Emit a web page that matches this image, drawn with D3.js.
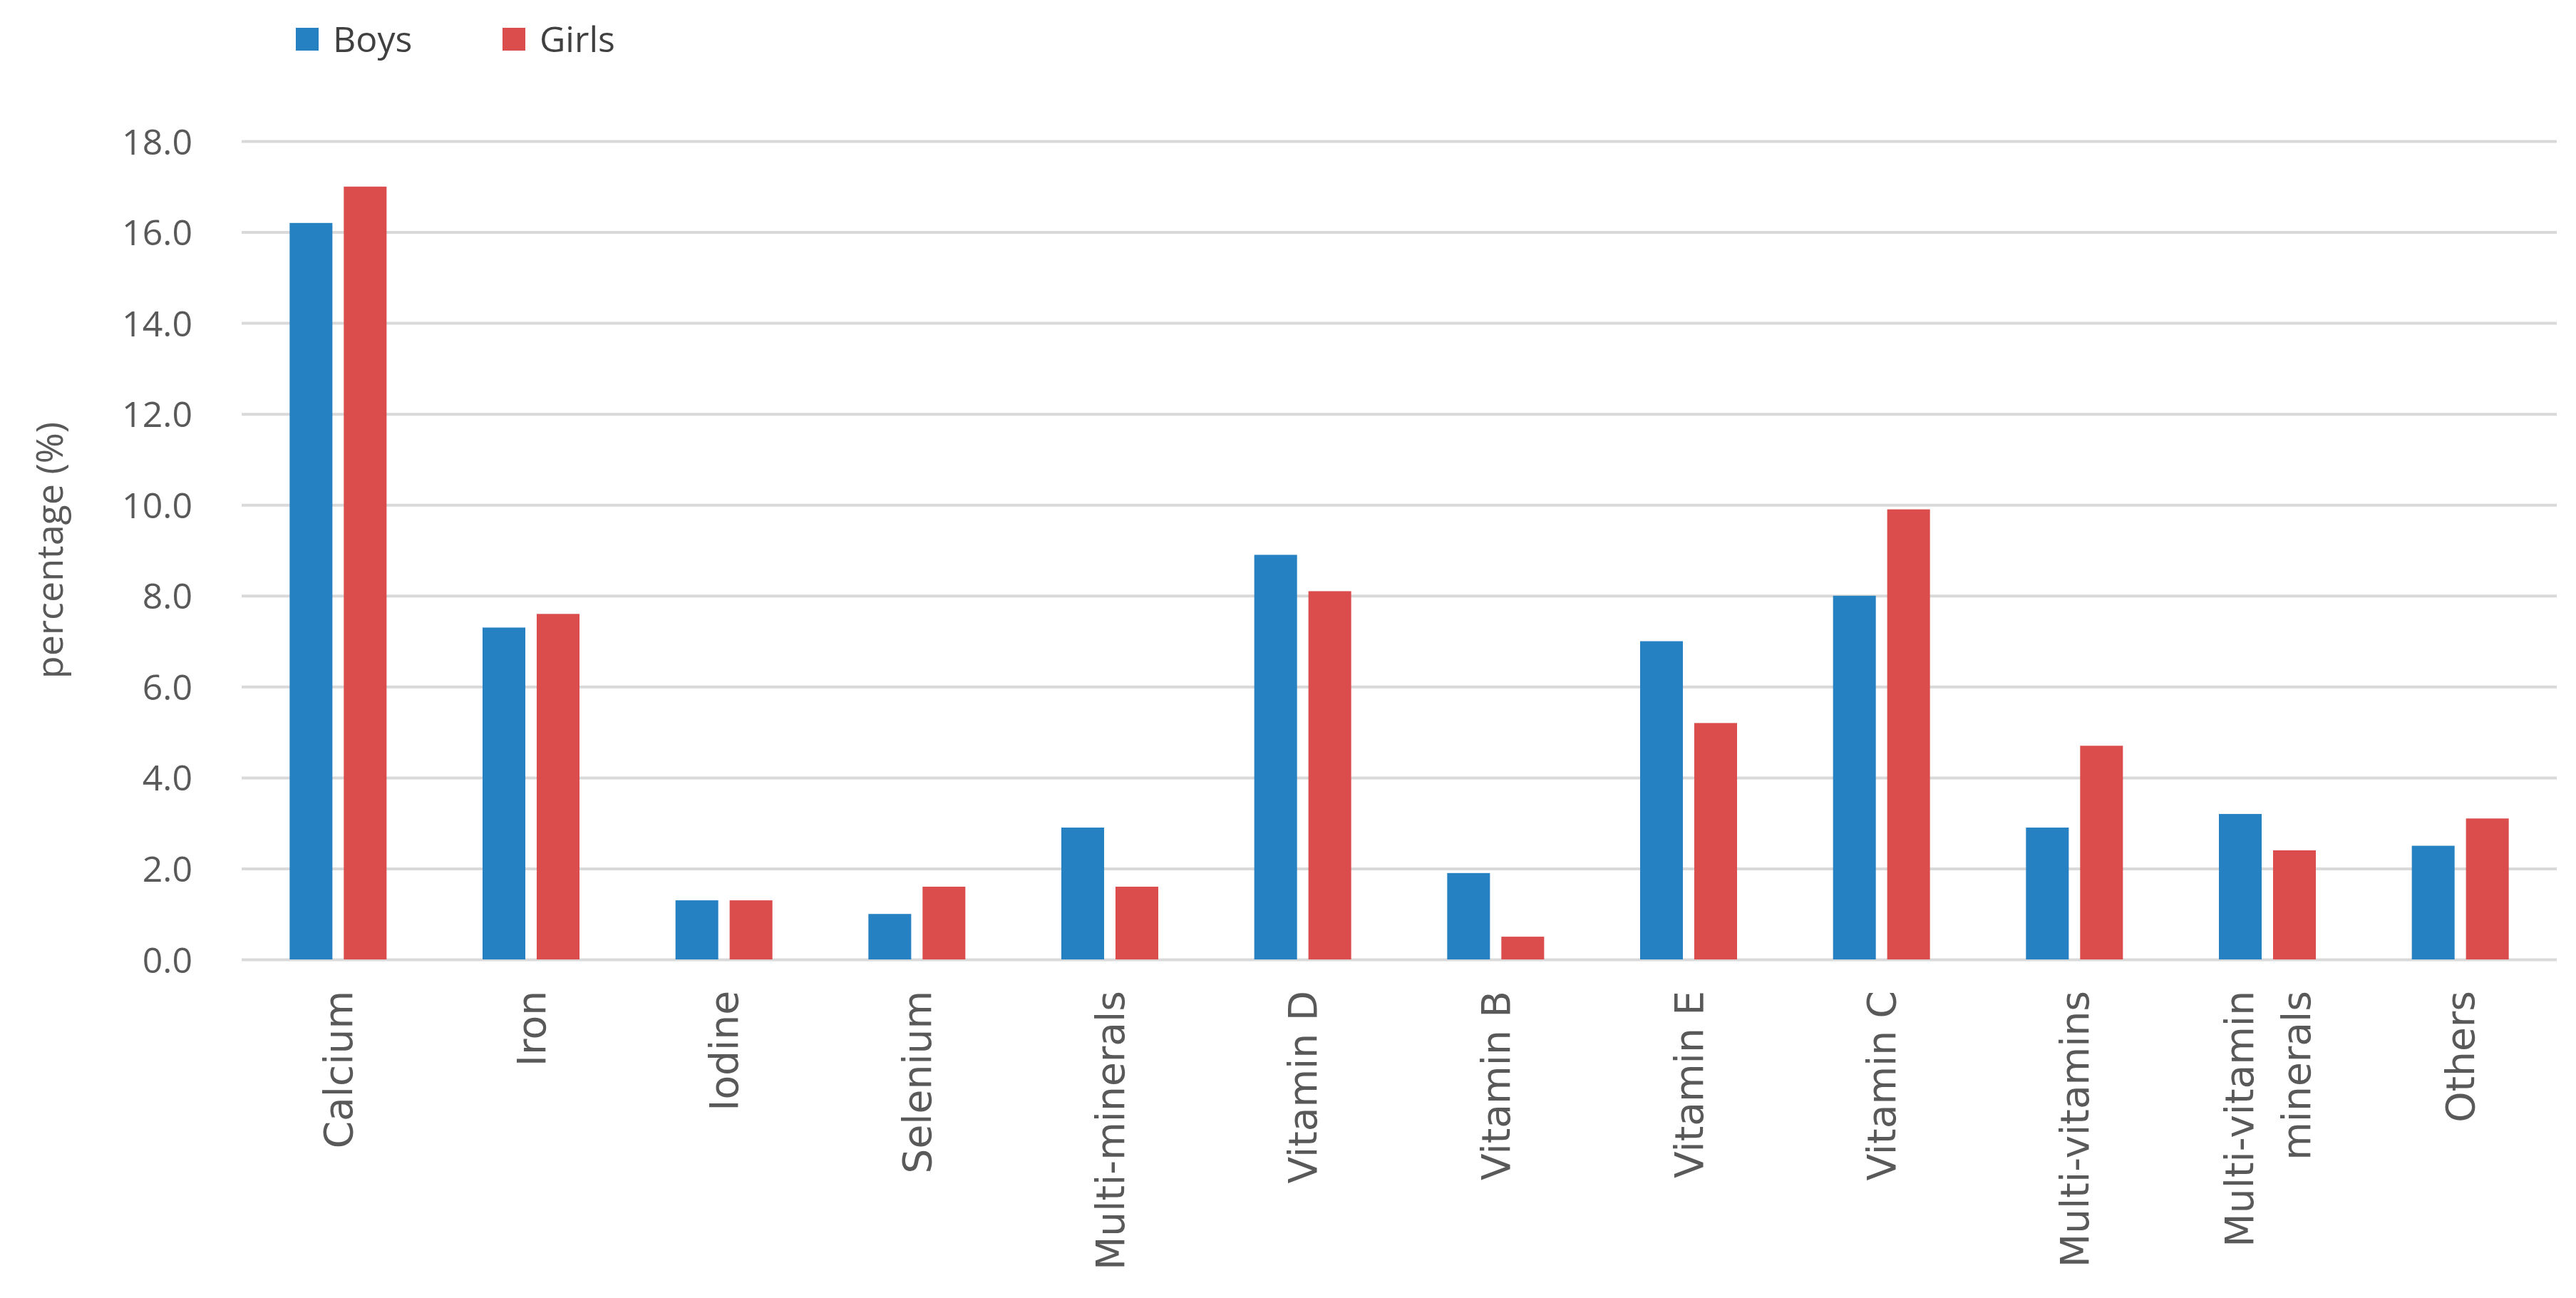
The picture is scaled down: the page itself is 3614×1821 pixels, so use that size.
<!DOCTYPE html>
<html>
<head>
<meta charset="utf-8">
<script src="https://cdn.jsdelivr.net/npm/d3@7"></script>
<style>
  html, body { margin: 0; padding: 0; background: #ffffff; }
  svg { display: block; }
</style>
</head>
<body>
<svg id="chart" width="3614" height="1821"></svg>
<script>
const categories = ["Calcium", "Iron", "Iodine", "Selenium", "Multi-minerals", "Vitamin D", "Vitamin B", "Vitamin E", "Vitamin C", "Multi-vitamins", "Multi-vitamin\nminerals", "Others"];
const seriesNames = ["Boys", "Girls"];
const boys  = [16.2, 7.3, 1.3, 1.0, 2.9, 8.9, 1.9, 7.0, 8.0, 2.9, 3.2, 2.5];
const girls = [17.0, 7.6, 1.3, 1.6, 1.6, 8.1, 0.5, 5.2, 9.9, 4.7, 2.4, 3.1];
const yTicks = [0, 2, 4, 6, 8, 10, 12, 14, 16, 18];
const yTitle = "percentage (%)";
const colors = ["#2681C3", "#DB4D4D"];

const W = 3614, H = 1821;
const margin = {top: 198, right: 27, bottom: 475, left: 339};
const svg = d3.select("#chart");
const g = svg.append("g").attr("transform", `translate(${margin.left},${margin.top})`);
const iw = W - margin.left - margin.right;
const ih = H - margin.top - margin.bottom;

const x0 = d3.scaleBand().domain(categories).range([0, iw]).paddingInner(0).paddingOuter(0);
const bw = x0.bandwidth();
const x1 = d3.scaleBand().domain(seriesNames).range([bw/2 - 68, bw/2 + 68]).paddingInner(0.21).paddingOuter(0);
const y = d3.scaleLinear().domain([0, 18]).range([ih, 0]);
const color = d3.scaleOrdinal().domain(seriesNames).range(colors);

// gridlines
const yAxis = d3.axisLeft(y).tickValues(yTicks).tickSize(-iw).tickFormat(d3.format(".1f")).tickPadding(69);
const ya = g.append("g").call(yAxis);
ya.select(".domain").remove();
ya.selectAll(".tick line").attr("stroke", "#d9d9d9").attr("stroke-width", 4);
ya.selectAll(".tick text")
  .attr("fill", "#595959")
  .style("font-family", "'Open Sans', sans-serif")
  .style("font-size", "50px")
  .attr("dy", "0.36em");

// bars
const data = categories.map((c, i) => ({cat: c, values: [boys[i], girls[i]]}));
const groups = g.append("g").selectAll("g").data(data).join("g")
  .attr("transform", d => `translate(${x0(d.cat)},0)`);
groups.selectAll("rect").data(d => seriesNames.map((s, k) => ({s, v: d.values[k]}))).join("rect")
  .attr("x", d => x1(d.s))
  .attr("width", x1.bandwidth())
  .attr("y", d => y(d.v))
  .attr("height", d => ih - y(d.v))
  .attr("fill", d => color(d.s));

// x axis labels
const xa = g.append("g").attr("transform", `translate(0,${ih})`)
  .call(d3.axisBottom(x0).tickSize(0).tickFormat(""));
xa.select(".domain").remove();
xa.selectAll(".tick").each(function(d) {
  const lines = d.split("\n");
  const t = d3.select(this).append("text")
    .attr("transform", "translate(0,44) rotate(-90)")
    .attr("text-anchor", "end")
    .attr("fill", "#595959")
    .style("font-family", "'DejaVu Sans', sans-serif")
    .style("font-size", "55px");
  const n = lines.length;
  lines.forEach((ln, k) => {
    const off = (k - (n - 1) / 2) * 1.45 + 0.36;
    t.append("tspan").attr("x", 0).attr("y", 0).attr("dy", off + "em").text(ln);
  });
});

// y title
svg.append("text")
  .attr("transform", `translate(69,${margin.top + ih/2}) rotate(-90)`)
  .attr("text-anchor", "middle")
  .attr("dy", "0.36em")
  .attr("fill", "#595959")
  .style("font-family", "'Open Sans', sans-serif")
  .style("font-size", "52px")
  .text(yTitle);

// legend
const legendX = [415, 705];
const lg = svg.append("g");
seriesNames.forEach((s, k) => {
  lg.append("rect").attr("x", legendX[k]).attr("y", 39).attr("width", 32).attr("height", 32).attr("fill", color(s));
  lg.append("text").attr("x", legendX[k] + 52).attr("y", 55).attr("dy", "0.36em")
    .attr("fill", "#404040")
    .style("font-family", "'Open Sans', sans-serif")
    .style("font-size", "50px")
    .text(s);
});
</script>
</body>
</html>
